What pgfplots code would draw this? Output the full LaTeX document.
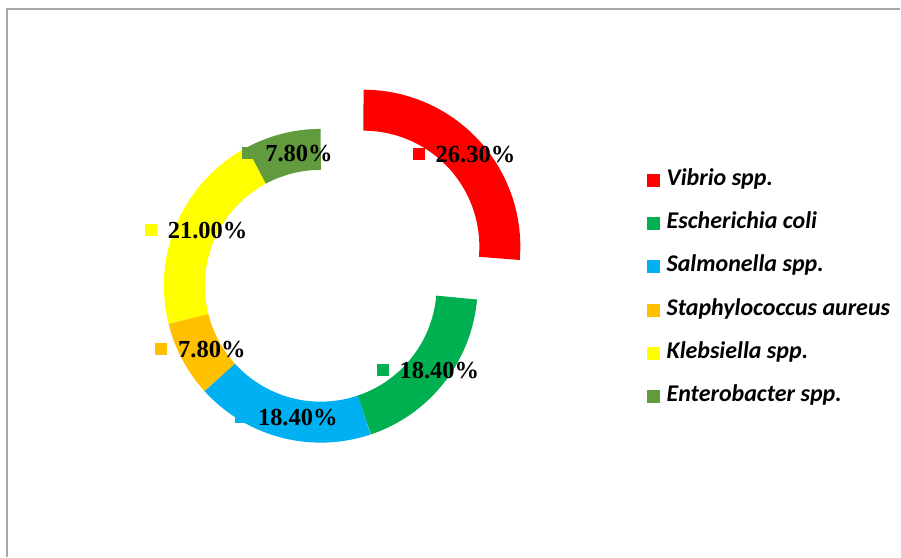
\documentclass[border=0pt]{standalone}
\usepackage{pgfplots}
\pgfplotsset{compat=1.18}
\usepgfplotslibrary{polar}
\usepackage{fontspec}
\setmainfont{Liberation Serif}
\newfontfamily\legfont{Carlito}
\definecolor{cVib}{HTML}{FF0000}
\definecolor{cEco}{HTML}{00B050}
\definecolor{cSal}{HTML}{00B0F0}
\definecolor{cSta}{HTML}{FFC000}
\definecolor{cKle}{HTML}{FFFF00}
\definecolor{cEnt}{HTML}{629B3D}
\definecolor{cFrame}{HTML}{A6A6A6}
% data (percent of isolates)
\def\vVib{26.3}
\def\vEco{18.4}
\def\vSal{18.4}
\def\vSta{7.8}
\def\vKle{21.0}
\def\vEnt{7.8}
\newcommand\labfont{\bfseries\fontsize{24.5bp}{28bp}\selectfont}
\newcommand\labkey[1]{\textcolor{#1}{\raisebox{2.5bp}{\rule{12bp}{12bp}}}\hspace{11bp}}
\begin{document}
\begin{tikzpicture}
\pgfmathsetmacro\tot{\vVib+\vEco+\vSal+\vSta+\vKle+\vEnt}
\pgfmathsetmacro\aA{90}
\pgfmathsetmacro\aB{\aA-360*\vVib/\tot}
\pgfmathsetmacro\aC{\aB-360*\vEco/\tot}
\pgfmathsetmacro\aD{\aC-360*\vSal/\tot}
\pgfmathsetmacro\aE{\aD-360*\vSta/\tot}
\pgfmathsetmacro\aF{\aE-360*\vKle/\tot}
\pgfmathsetmacro\aG{\aF-360*\vEnt/\tot}
\pgfmathsetmacro\mA{(\aA+\aB)/2}
\pgfmathsetmacro\mB{(\aB+\aC)/2}
\pgfmathsetmacro\mC{(\aC+\aD)/2}
\pgfmathsetmacro\mD{(\aD+\aE)/2}
\pgfmathsetmacro\mE{(\aE+\aF)/2}
\pgfmathsetmacro\mF{(\aF+\aG)/2}
\pgfmathsetmacro\offx{321+58*cos(\mA)}
\pgfmathsetmacro\offy{271+58*sin(\mA)}
\begin{axis}[at={(0,0)}, anchor=south west, scale only axis,
  width=901bp, height=557bp, xmin=0, xmax=901, ymin=0, ymax=557,
  hide axis, clip=false,
  legend image code/.code={\fill[#1] (0bp,-6.5bp) rectangle (13bp,6.5bp);},
  legend style={at={(axis cs:647,387)}, anchor=north west, draw=none, fill=none,
    inner sep=0pt, row sep=23.4bp, column sep=7bp,
    font=\legfont\bfseries\itshape\fontsize{24bp}{28bp}\selectfont,
    nodes={inner sep=0pt, text height=15bp, text depth=5bp}},
  legend cell align=left]
\path (axis cs:0,0) rectangle (axis cs:901,557);
\draw[cFrame, line width=1.5bp] (axis cs:7,0) -- (axis cs:7,548) -- (axis cs:901,548);
\addlegendimage{fill=cVib, draw=none}
\addlegendentry{Vibrio spp.}
\addlegendimage{fill=cEco, draw=none}
\addlegendentry{Escherichia coli}
\addlegendimage{fill=cSal, draw=none}
\addlegendentry{Salmonella spp.}
\addlegendimage{fill=cSta, draw=none}
\addlegendentry{Staphylococcus aureus}
\addlegendimage{fill=cKle, draw=none}
\addlegendentry{Klebsiella spp.}
\addlegendimage{fill=cEnt, draw=none}
\addlegendentry{Enterobacter spp.}
\end{axis}
\begin{polaraxis}[at={(321bp,271bp)}, anchor=center, scale only axis,
  width=320bp, height=320bp, ymin=0, ymax=160, hide axis, clip=false]
\addplot[cEco, line width=41bp, line cap=butt, domain=\aC:\aB, samples=80, no markers] {136.5};
\addplot[cSal, line width=41bp, line cap=butt, domain=\aD:\aC, samples=80, no markers] {136.5};
\addplot[cSta, line width=41bp, line cap=butt, domain=\aE:\aD, samples=40, no markers] {136.5};
\addplot[cKle, line width=41bp, line cap=butt, domain=\aF:\aE, samples=80, no markers] {136.5};
\addplot[cEnt, line width=41bp, line cap=butt, domain=\aG:\aF, samples=40, no markers] {136.5};
\node[font=\labfont, inner sep=0pt] at (axis cs:\mB,136.5) {\labkey{cEco}18.40\%};
\node[font=\labfont, inner sep=0pt] at (axis cs:\mC,136.5) {\labkey{cSal}18.40\%};
\node[font=\labfont, inner sep=0pt] at (axis cs:\mD,136.5) {\labkey{cSta}7.80\%};
\node[font=\labfont, inner sep=0pt] at (axis cs:\mE,136.5) {\labkey{cKle}21.00\%};
\node[font=\labfont, inner sep=0pt] at (axis cs:\mF,136.5) {\labkey{cEnt}7.80\%};
\end{polaraxis}
\begin{polaraxis}[at={(\offx bp,\offy bp)}, anchor=center, scale only axis,
  width=320bp, height=320bp, ymin=0, ymax=160, hide axis, clip=false]
\addplot[cVib, line width=41bp, line cap=butt, domain=\aB:\aA, samples=100, no markers] {136.5};
\node[font=\labfont, inner sep=0pt] at (axis cs:\mA,136.5) {\labkey{cVib}26.30\%};
\end{polaraxis}
\end{tikzpicture}
\end{document}
